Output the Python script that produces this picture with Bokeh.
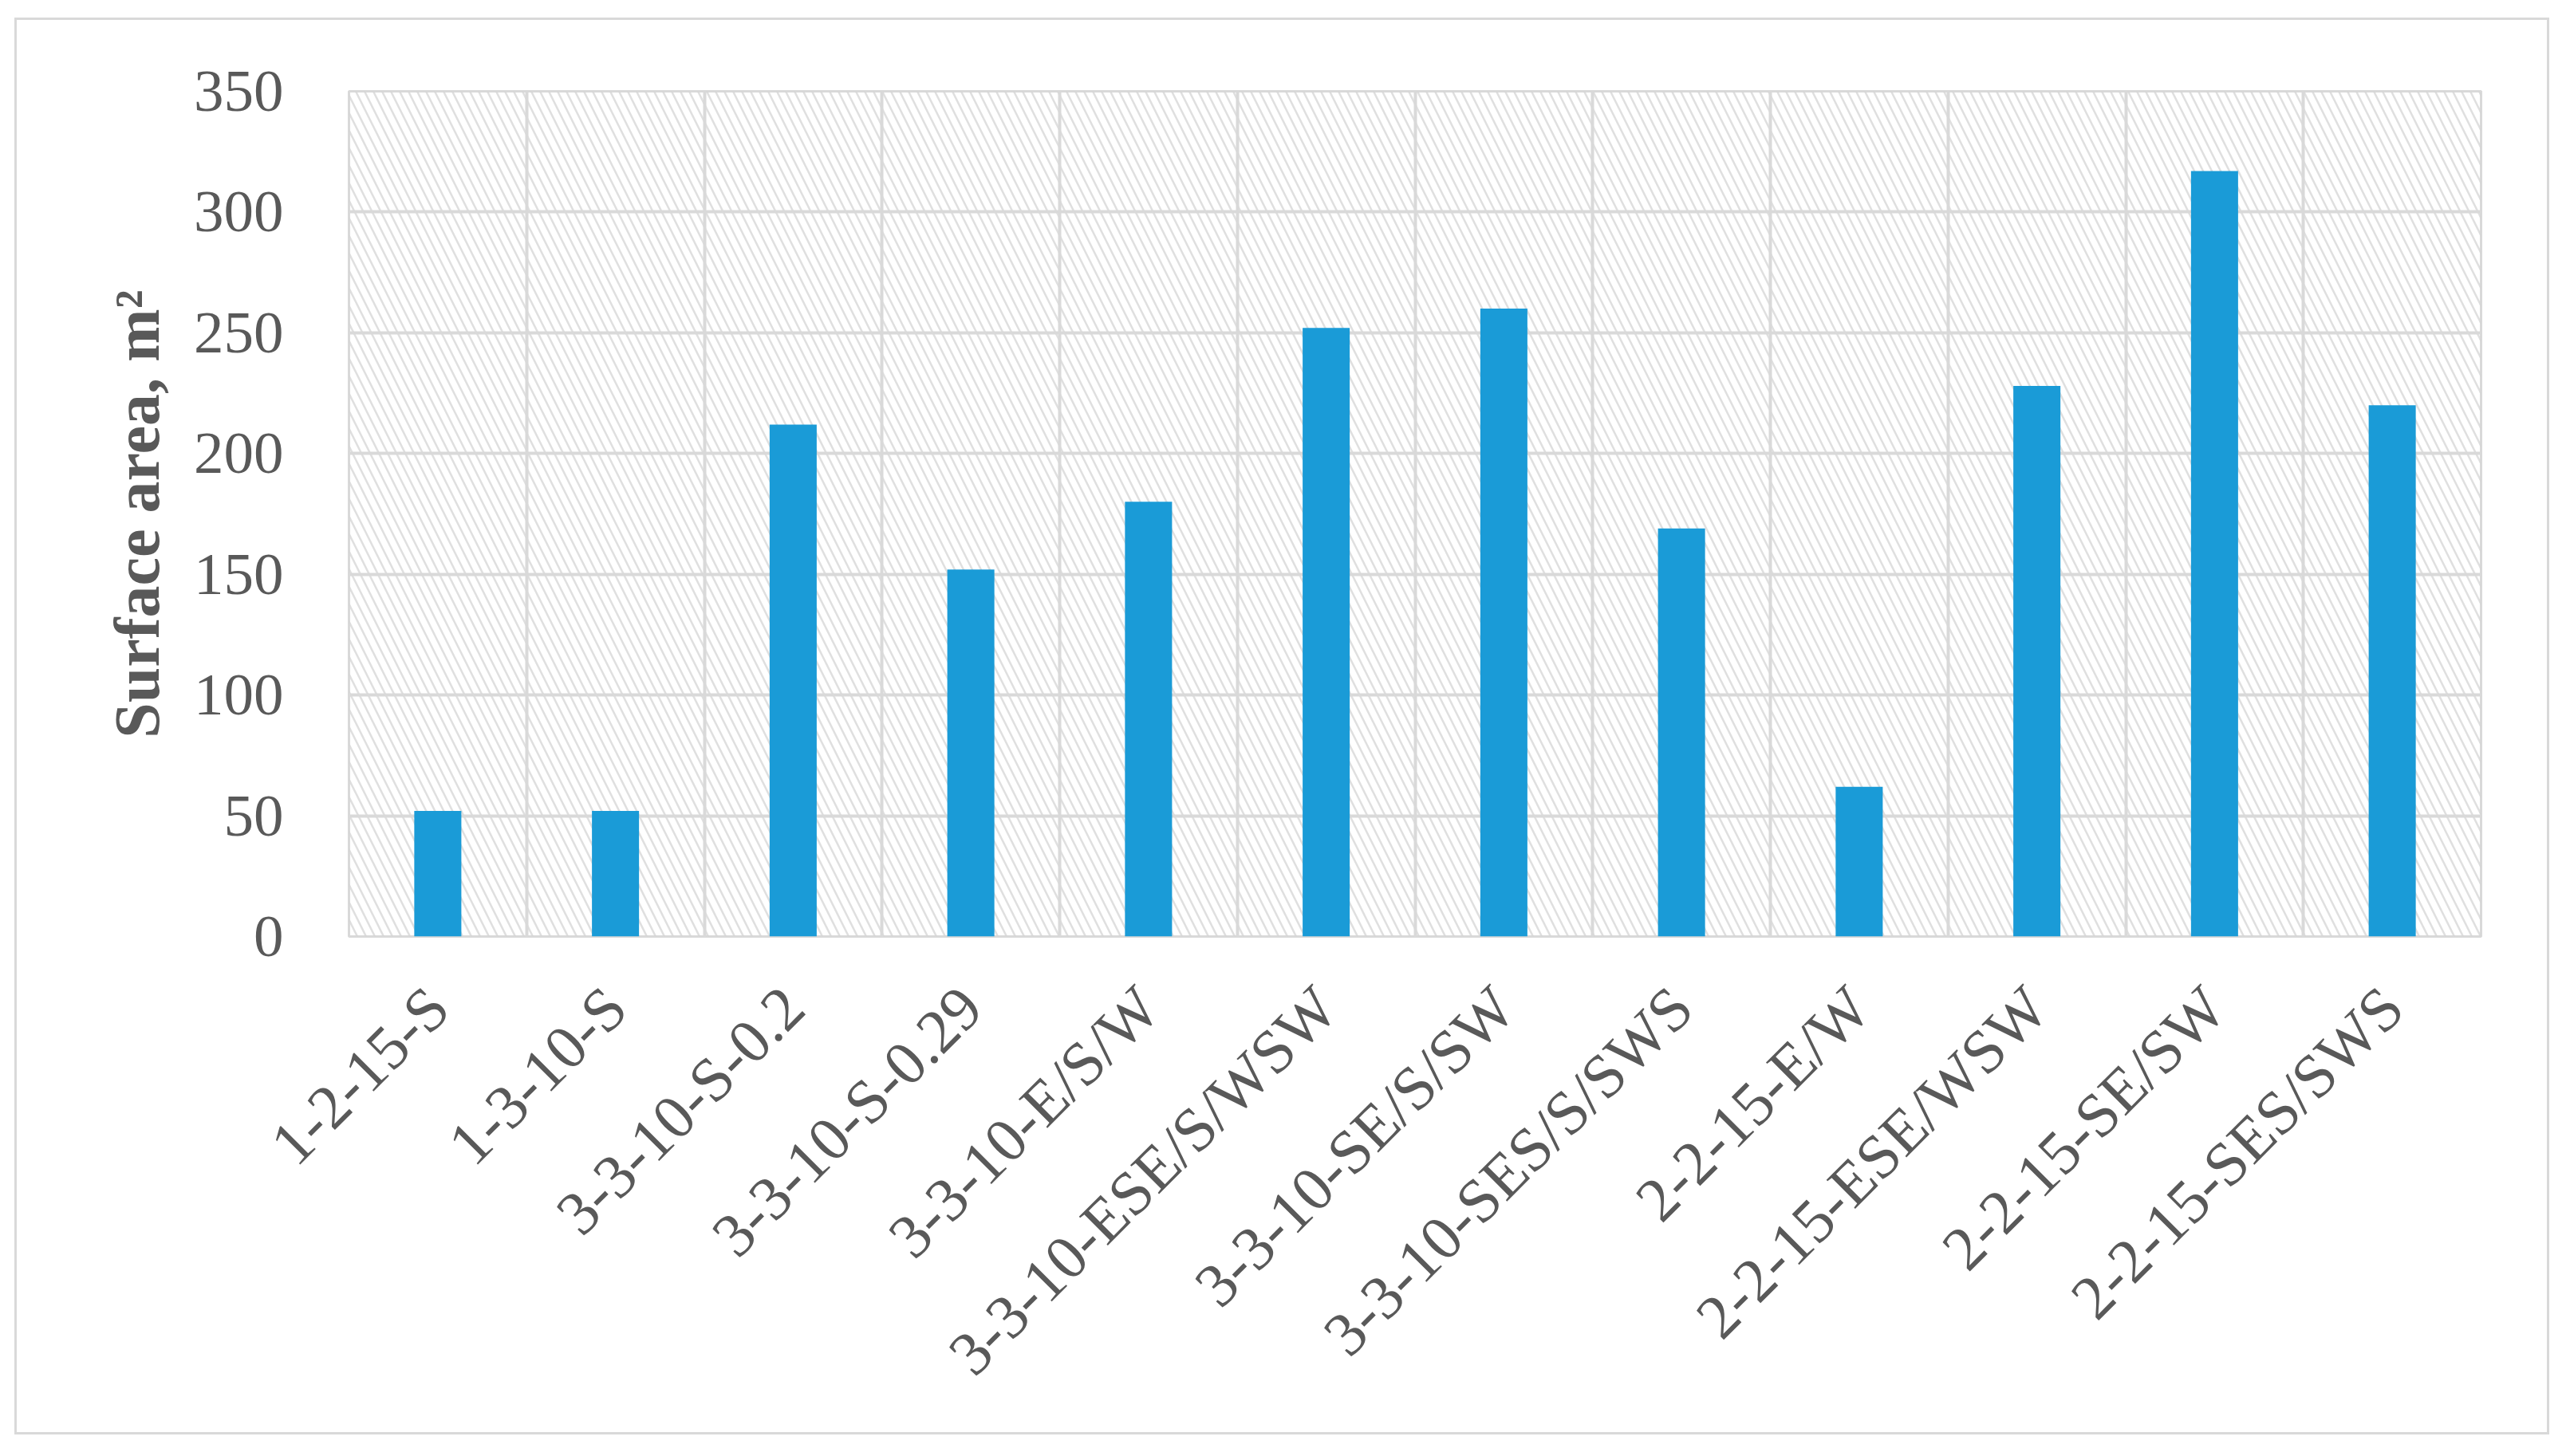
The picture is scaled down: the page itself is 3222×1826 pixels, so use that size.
import math
import numpy as np
from bokeh.plotting import figure
from bokeh.models import Range1d, FixedTicker
from bokeh.embed import file_html
from bokeh.resources import INLINE

categories = ["1-2-15-S", "1-3-10-S", "3-3-10-S-0.2", "3-3-10-S-0.29",
              "3-3-10-E/S/W", "3-3-10-ESE/S/WSW", "3-3-10-SE/S/SW",
              "3-3-10-SES/S/SWS", "2-2-15-E/W", "2-2-15-ESE/WSW",
              "2-2-15-SE/SW", "2-2-15-SES/SWS"]
surface_area = [52, 52, 212, 152, 180, 252, 260, 169, 62, 228, 317, 220]
y_ticks = [0, 50, 100, 150, 200, 250, 300, 350]
y_title = "Surface area, m\u00b2"

n = len(categories)
centers = [i + 0.5 for i in range(n)]
bounds = list(range(n + 1))

FONT = "Liberation Serif"
TXT = "#595959"
GRID = "#d9d9d9"

p = figure(width=3178, height=1777,
           x_range=Range1d(0, n), y_range=Range1d(y_ticks[0], y_ticks[-1]),
           output_backend="svg", toolbar_location=None,
           min_border_left=416, min_border_right=89,
           min_border_top=89, min_border_bottom=628)
# light grey frame around the whole chart
p.styles = {"border": "3px solid #d9d9d9", "margin-left": "18px", "margin-top": "22px"}

# hatched plot-area background
p.quad(left=[0], right=[n], bottom=[y_ticks[0]], top=[y_ticks[-1]],
       fill_color=None, line_color=None,
       hatch_pattern="\\", hatch_color="#d4d4d4", hatch_weight=2.5,
       hatch_scale=22, hatch_alpha=0.75, level="image")

p.vbar(x=centers, top=surface_area, width=0.265, bottom=0,
       fill_color="#1a9bd7", line_color=None)

p.outline_line_color = GRID
p.outline_line_width = 3

p.xgrid[0].ticker = FixedTicker(ticks=bounds)
p.xgrid.grid_line_color = GRID
p.xgrid.grid_line_width = 4
p.ygrid[0].ticker = FixedTicker(ticks=y_ticks)
p.ygrid.grid_line_color = GRID
p.ygrid.grid_line_width = 4

p.xaxis.ticker = FixedTicker(ticks=centers)
p.xaxis.major_label_overrides = {c: lab for c, lab in zip(centers, categories)}
p.xaxis.major_label_orientation = math.pi / 4
p.xaxis.major_label_standoff = 70
p.xaxis.axis_line_color = None

p.yaxis.ticker = FixedTicker(ticks=y_ticks)
p.yaxis.major_label_standoff = 76
p.yaxis.axis_line_color = None
p.yaxis.axis_label = y_title
p.yaxis.axis_label_standoff = 24
p.yaxis.axis_label_text_font = FONT
p.yaxis.axis_label_text_font_size = "80px"
p.yaxis.axis_label_text_font_style = "bold"
p.yaxis.axis_label_text_color = TXT

for ax in (p.xaxis, p.yaxis):
    ax.major_tick_line_color = None
    ax.minor_tick_line_color = None
    ax.major_label_text_font = FONT
    ax.major_label_text_color = TXT
p.yaxis.major_label_text_font_size = "75px"
p.xaxis.major_label_text_font_size = "78px"

open("out.html", "w").write(file_html(p, INLINE))
